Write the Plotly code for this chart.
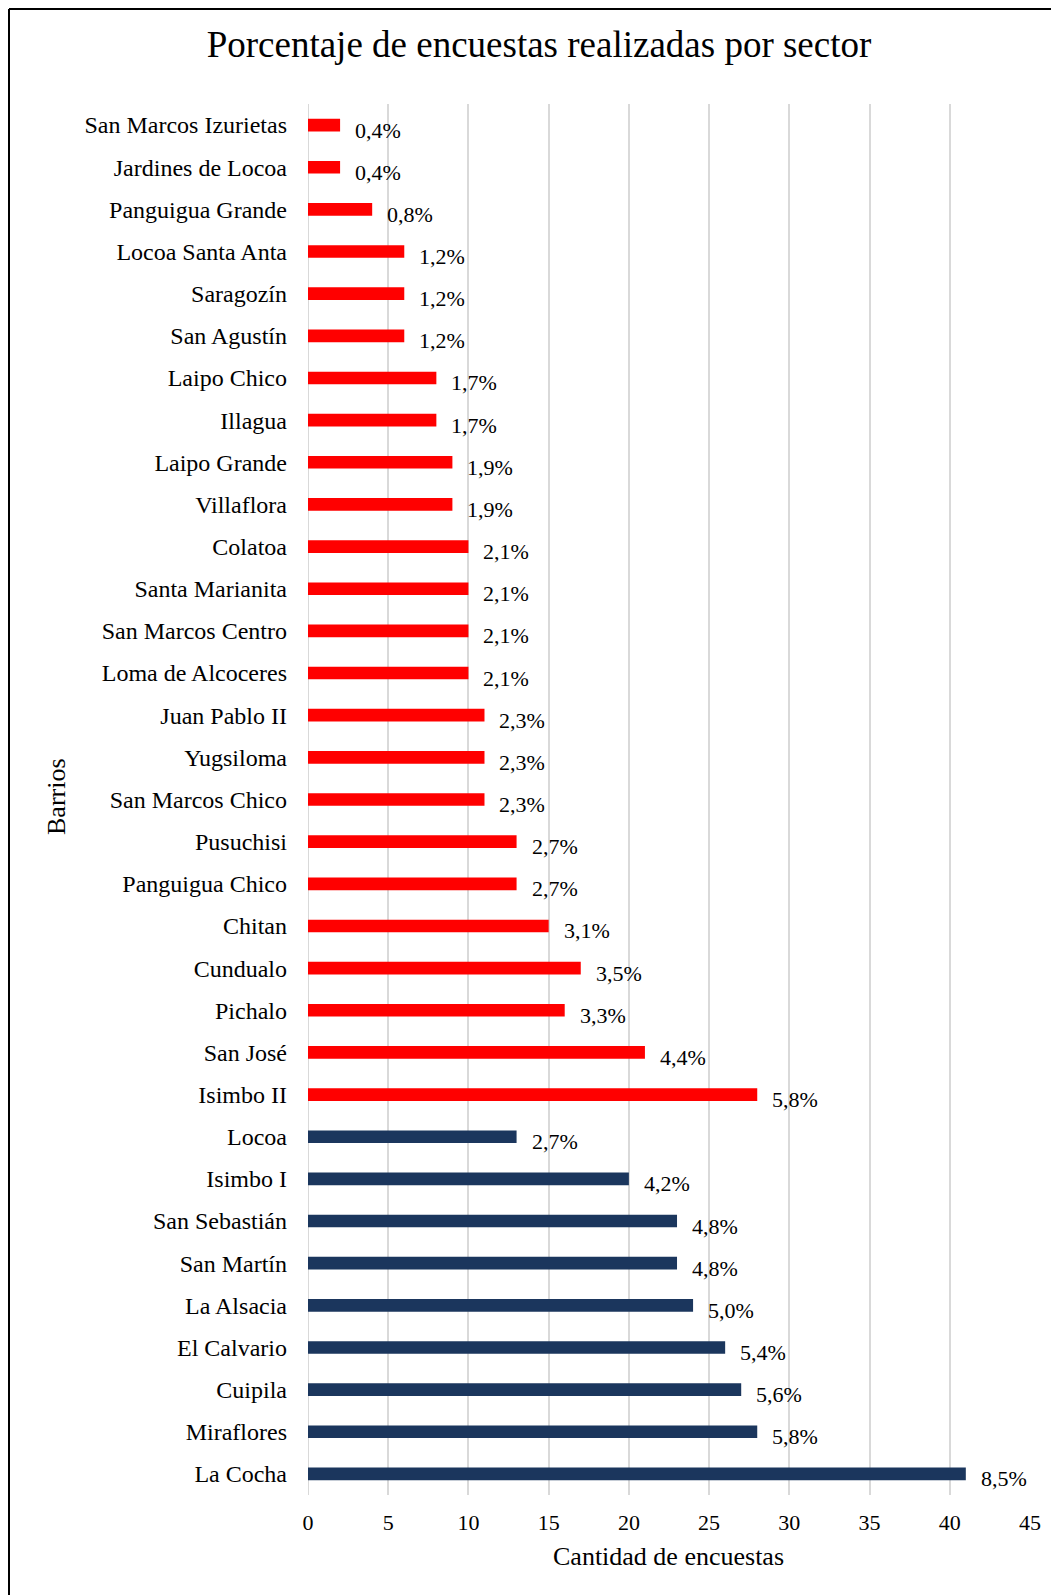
import plotly.graph_objects as go

# Barrios (de arriba hacia abajo) y cantidad de encuestas
barrios = ["San Marcos Izurietas", "Jardines de Locoa", "Panguigua Grande", "Locoa Santa Anta",
           "Saragozín", "San Agustín", "Laipo Chico", "Illagua", "Laipo Grande", "Villaflora",
           "Colatoa", "Santa Marianita", "San Marcos Centro", "Loma de Alcoceres", "Juan Pablo II",
           "Yugsiloma", "San Marcos Chico", "Pusuchisi", "Panguigua Chico", "Chitan", "Cundualo",
           "Pichalo", "San José", "Isimbo II", "Locoa", "Isimbo I", "San Sebastián", "San Martín",
           "La Alsacia", "El Calvario", "Cuipila", "Miraflores", "La Cocha"]
encuestas = [2, 2, 4, 6, 6, 6, 8, 8, 9, 9, 10, 10, 10, 10, 11, 11, 11, 13, 13, 15, 17, 16, 21, 28,
             13, 20, 23, 23, 24, 26, 27, 28, 41]
porcentajes = ["0,4%", "0,4%", "0,8%", "1,2%", "1,2%", "1,2%", "1,7%", "1,7%", "1,9%", "1,9%",
               "2,1%", "2,1%", "2,1%", "2,1%", "2,3%", "2,3%", "2,3%", "2,7%", "2,7%", "3,1%", "3,5%",
               "3,3%", "4,4%", "5,8%", "2,7%", "4,2%", "4,8%", "4,8%", "5,0%", "5,4%", "5,6%", "5,8%", "8,5%"]
n_rojo = 24  # primeros 24 barrios en rojo, el resto azul oscuro
x_ticks = [0, 5, 10, 15, 20, 25, 30, 35, 40, 45]

FONT = "Liberation Serif"
colores = ["#FF0000"] * n_rojo + ["#1B365D"] * (len(barrios) - n_rojo)

# la pagina tiene 8px de margen, se descuenta
OFF = 8
W, H = 1059 - OFF, 1595 - OFF
L, R, T, B = 308 - OFF, 29, 104 - OFF, 100
pw, ph = W - L - R, H - T - B
def px(x): return (x - OFF - L) / pw
def py(y): return (H - B - (y - OFF)) / ph

fig = go.Figure()
fig.add_trace(go.Bar(x=encuestas, y=barrios, orientation='h', marker=dict(color=colores, line_width=0),
                     width=0.3, hoverinfo='x+y'))

annotations = []
for b, v, p in zip(barrios, encuestas, porcentajes):
    annotations.append(dict(x=v, y=b, xref='x', yref='y', text=p, showarrow=False,
                            xanchor='left', yanchor='middle', xshift=13, yshift=-5,
                            font=dict(family=FONT, size=22, color='black')))

# Titulos de ejes
annotations.append(dict(x=px(668), y=py(1556), xref='paper', yref='paper', text='Cantidad de encuestas',
                        showarrow=False, xanchor='center', yanchor='middle',
                        font=dict(family=FONT, size=26, color='black')))
annotations.append(dict(x=px(56), y=py(797), xref='paper', yref='paper', text='Barrios', textangle=-90,
                        showarrow=False, xanchor='center', yanchor='middle',
                        font=dict(family=FONT, size=26, color='black')))

# borde del grafico (lo mas cerca posible del origen de la figura)
bx, by = OFF + 1, OFF + 1

fig.update_layout(
    width=W, height=H,
    margin=dict(l=L, r=R, t=T, b=B),
    paper_bgcolor='white', plot_bgcolor='white',
    showlegend=False,
    title=dict(text='Porcentaje de encuestas realizadas por sector', x=(539 - OFF) / W, xanchor='center',
               y=1 - (44 - OFF) / H, yanchor='middle', font=dict(family=FONT, size=37, color='black')),
    annotations=annotations,
    shapes=[
        dict(type='line', xref='paper', yref='paper', x0=px(bx), x1=px(1070), y0=py(by), y1=py(by),
             line=dict(color='black', width=2)),
        dict(type='line', xref='paper', yref='paper', x0=px(bx), x1=px(bx), y0=py(by), y1=py(1610),
             line=dict(color='black', width=2)),
    ],
)
fig.update_xaxes(range=[0, 45], tickvals=x_ticks, showgrid=True, gridcolor='#D9D9D9', gridwidth=2,
                 zeroline=False, showline=False, ticks='', ticklabelstandoff=12,
                 tickfont=dict(family=FONT, size=22, color='black'))
fig.update_yaxes(autorange='reversed', showgrid=False, zeroline=False, showline=False, ticks='',
                 ticklabelstandoff=20, tickfont=dict(family=FONT, size=24, color='black'))
# linea de 0 como las demas
fig.add_vline(x=0, line=dict(color='#D9D9D9', width=2), layer='below')

fig.write_html("out.html")
